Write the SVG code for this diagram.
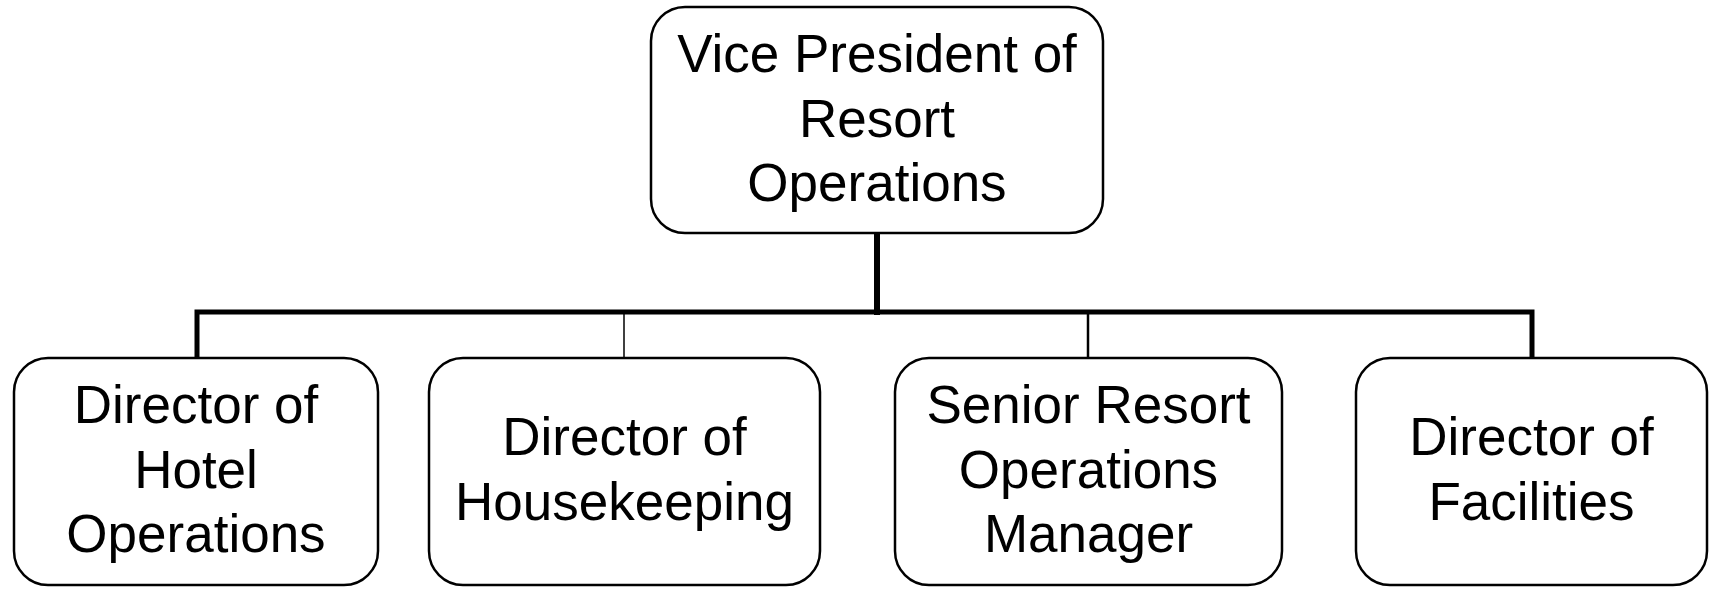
<svg xmlns="http://www.w3.org/2000/svg" width="1710" height="591" viewBox="0 0 1710 591">
<style>
.box{fill:#fff;stroke:#000;stroke-width:2.5}
.lbl{font-family:"Liberation Sans",Arial,sans-serif;font-size:53px;fill:#000;text-anchor:middle}
.c{stroke:#000;fill:none;stroke-linecap:square}
</style>
<rect width="1710" height="591" fill="#fff"/>
<g id="connectors">
<line class="c" x1="877" y1="233" x2="877" y2="312" stroke-width="6"/>
<polyline class="c" points="197,357 197,312 1532,312 1532,357" stroke-width="5"/>
<line class="c" x1="624" y1="312" x2="624" y2="357" stroke-width="1.5"/>
<line class="c" x1="1088" y1="312" x2="1088" y2="357" stroke-width="2.5"/>
</g>
<g id="vp">
<rect class="box" x="651" y="7" width="452" height="226" rx="34"/>
<text class="lbl" x="877" y="72">Vice President of</text>
<text class="lbl" x="877" y="137">Resort</text>
<text class="lbl" x="877" y="201">Operations</text>
</g>
<g id="hotel">
<rect class="box" x="14" y="358" width="364" height="227" rx="34"/>
<text class="lbl" x="196" y="423">Director of</text>
<text class="lbl" x="196" y="488">Hotel</text>
<text class="lbl" x="196" y="552">Operations</text>
</g>
<g id="housekeeping">
<rect class="box" x="429" y="358" width="391" height="227" rx="34"/>
<text class="lbl" x="624.5" y="455">Director of</text>
<text class="lbl" x="624.5" y="520">Housekeeping</text>
</g>
<g id="senior">
<rect class="box" x="895" y="358" width="387" height="227" rx="34"/>
<text class="lbl" x="1088.5" y="423">Senior Resort</text>
<text class="lbl" x="1088.5" y="488">Operations</text>
<text class="lbl" x="1088.5" y="552">Manager</text>
</g>
<g id="facilities">
<rect class="box" x="1356" y="358" width="351" height="227" rx="34"/>
<text class="lbl" x="1531.5" y="455">Director of</text>
<text class="lbl" x="1531.5" y="520">Facilities</text>
</g>
</svg>
